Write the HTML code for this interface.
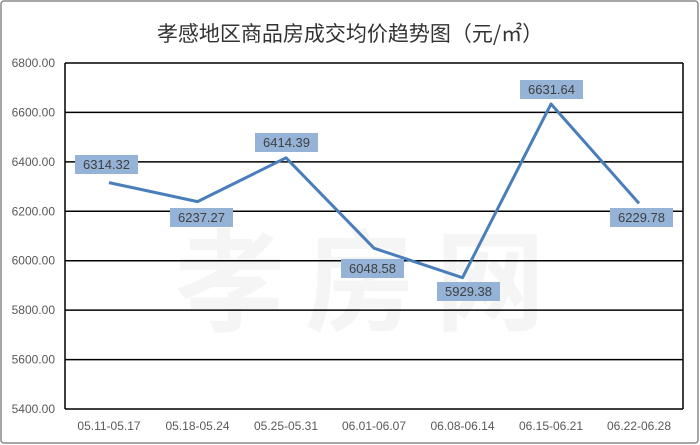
<!DOCTYPE html>
<html><head><meta charset="utf-8"><style>
body{margin:0;background:#fff}
svg{display:block;font-family:"Liberation Sans","Noto Sans CJK SC",sans-serif}
</style></head><body>
<svg width="700" height="445" xmlns="http://www.w3.org/2000/svg">
<rect x="1" y="1" width="697" height="442" rx="3" fill="#fff" stroke="#8a8a8a" stroke-width="1.5"/>
<text x="350" y="41" text-anchor="middle" font-size="21" fill="#333" font-family="'Noto Sans CJK SC',sans-serif">孝感地区商品房成交均价趋势图（元/㎡）</text>
<text x="370" y="322" text-anchor="middle" font-size="110" fill="#f5f5f5" font-weight="bold" font-family="'Noto Sans CJK SC',sans-serif" letter-spacing="20">孝房网</text>
<g stroke="#000" stroke-width="1.5">
<line x1="65" y1="63" x2="683" y2="63"/>
<line x1="65" y1="112.4" x2="683" y2="112.4"/>
<line x1="65" y1="161.9" x2="683" y2="161.9"/>
<line x1="65" y1="211.3" x2="683" y2="211.3"/>
<line x1="65" y1="260.7" x2="683" y2="260.7"/>
<line x1="65" y1="310.1" x2="683" y2="310.1"/>
<line x1="65" y1="359.6" x2="683" y2="359.6"/>
<line x1="65" y1="409" x2="683" y2="409"/>
<line x1="65" y1="63" x2="65" y2="409"/>
<line x1="683" y1="63" x2="683" y2="409"/>
</g>
<g font-size="12" fill="#595959" text-anchor="end">
<text x="55" y="67">6800.00</text><text x="55" y="116.4">6600.00</text><text x="55" y="165.9">6400.00</text><text x="55" y="215.3">6200.00</text><text x="55" y="264.7">6000.00</text><text x="55" y="314.1">5800.00</text><text x="55" y="363.6">5600.00</text><text x="55" y="413">5400.00</text>
</g>
<g font-size="12" fill="#595959" text-anchor="middle">
<text x="109" y="430">05.11-05.17</text><text x="197.5" y="430">05.18-05.24</text><text x="286" y="430">05.25-05.31</text><text x="374" y="430">06.01-06.07</text><text x="462.5" y="430">06.08-06.14</text><text x="551" y="430">06.15-06.21</text><text x="639" y="430">06.22-06.28</text>
</g>
<polyline fill="none" stroke="#4a7ebb" stroke-width="3" stroke-linejoin="round" points="109,182.6 197.5,201.6 286,157.8 374,248.2 462.5,277.7 551,104 639,203.4"/>
<g font-size="13" fill="#404040" text-anchor="middle">
<rect x="75" y="155" width="63" height="19" fill="#95b3d7"/><text x="106.5" y="169">6314.32</text>
<rect x="170" y="208" width="63" height="19" fill="#95b3d7"/><text x="201.5" y="222">6237.27</text>
<rect x="255" y="133" width="63" height="19" fill="#95b3d7"/><text x="286.5" y="147">6414.39</text>
<rect x="341" y="259" width="63" height="19" fill="#95b3d7"/><text x="372.5" y="273">6048.58</text>
<rect x="437" y="282" width="63" height="19" fill="#95b3d7"/><text x="468.5" y="296">5929.38</text>
<rect x="520" y="80" width="63" height="19" fill="#95b3d7"/><text x="551.5" y="94">6631.64</text>
<rect x="610" y="208" width="63" height="19" fill="#95b3d7"/><text x="641.5" y="222">6229.78</text>
</g>
</svg>
</body></html>
